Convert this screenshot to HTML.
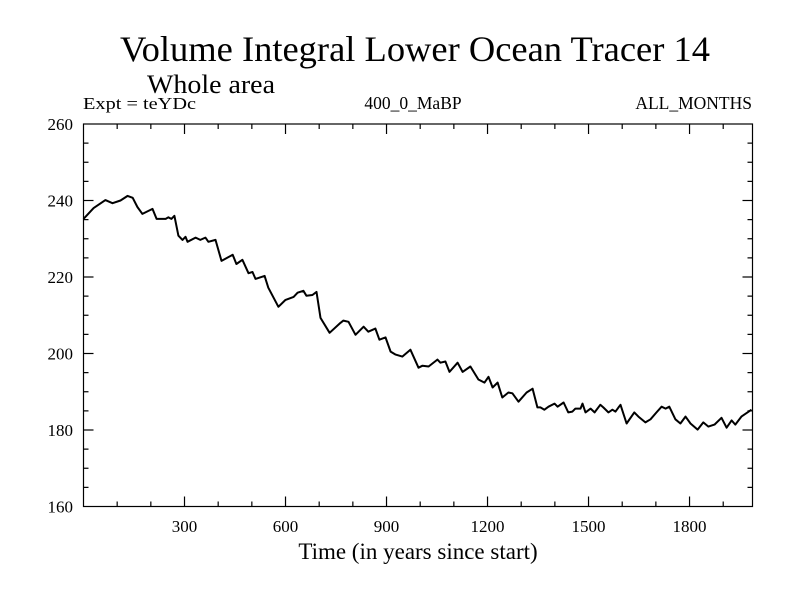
<!DOCTYPE html>
<html><head><meta charset="utf-8"><style>
body{margin:0;background:#fff;}
svg{display:block;font-family:"Liberation Serif",serif;}
</style></head><body>
<svg id="chart" width="800" height="600">
<text x="415" y="61" font-size="36" text-anchor="middle" textLength="590" lengthAdjust="spacingAndGlyphs">Volume Integral Lower Ocean Tracer 14</text>
<text x="147" y="93" font-size="26" textLength="128" lengthAdjust="spacingAndGlyphs">Whole area</text>
<text x="83" y="109" font-size="17" textLength="113" lengthAdjust="spacingAndGlyphs">Expt = teYDc</text>
<text x="413" y="109" font-size="17.5" text-anchor="middle">400_0_MaBP</text>
<text x="752" y="109" font-size="17.5" text-anchor="end">ALL_MONTHS</text>
<text x="418" y="559" font-size="23" text-anchor="middle">Time (in years since start)</text>
<g id="axes"></g>
<path id="series" fill="none" stroke="#000" stroke-width="2" stroke-linejoin="round"></path>
<rect x="83.5" y="124" width="669" height="382.5" fill="none" stroke="#000" stroke-width="1.2"></rect>
</svg>
<script>
const years=[0,30,65,86,110,131,146,160,175,205,217,244,252,261,270,282,294,303,309,333,347,362,371,392,410,443,454,472,490,502,511,538,549,579,600,624,636,653,662,680,692,704,731,763,772,787,808,832,846,867,879,897,912,927,947,971,995,1007,1025,1051,1060,1075,1087,1111,1126,1149,1173,1191,1203,1215,1230,1244,1262,1274,1292,1316,1334,1348,1357,1369,1381,1399,1408,1426,1440,1452,1461,1476,1482,1491,1506,1518,1535,1544,1559,1571,1580,1589,1595,1613,1636,1648,1669,1684,1702,1717,1729,1740,1758,1773,1788,1803,1824,1841,1856,1874,1895,1910,1925,1936,1954,1984];
const values=[235.2,238,240.1,239.3,240,241.2,240.7,238.3,236.5,237.8,235.2,235.2,235.6,235.2,236,230.8,229.7,230.5,229.2,230.3,229.7,230.3,229.2,229.7,224.2,225.8,223.4,224.5,221,221.3,219.5,220.3,217.2,212.2,214,214.8,215.9,216.4,215.1,215.3,216.1,209.3,205.4,208,208.6,208.3,204.9,207,205.7,206.5,203.6,204.2,200.5,199.7,199.2,201,196.3,196.8,196.6,198.4,197.6,197.9,195.2,197.6,195.2,196.6,193.2,192.4,193.9,191.1,192.4,188.5,189.8,189.6,187.4,189.8,190.8,185.9,185.9,185.3,186.1,186.9,186.1,187.2,184.6,184.8,185.6,185.6,186.9,184.6,185.6,184.6,186.6,185.9,184.6,185.3,184.8,185.9,186.6,181.7,184.6,183.5,182,182.8,184.6,186.1,185.6,186.1,182.8,181.7,183.5,181.7,180.1,182,180.9,181.4,183.2,180.6,182.5,181.4,183.5,185.3];
const xTicks=[300,600,900,1200,1500,1800];
const yTicks=[160,180,200,220,240,260];
const X0=83.5,X1=752.5,Y0=506.5,Y1=124,XMAX=1987,YMIN=160,YMAX=260;
const sx=v=>X0+v/XMAX*(X1-X0);
const sy=v=>Y0-(v-YMIN)/(YMAX-YMIN)*(Y0-Y1);
const NS='http://www.w3.org/2000/svg';
const ax=document.getElementById('axes');
function ln(x1,y1,x2,y2){const l=document.createElementNS(NS,'line');l.setAttribute('x1',x1);l.setAttribute('y1',y1);l.setAttribute('x2',x2);l.setAttribute('y2',y2);l.setAttribute('stroke','#000');l.setAttribute('stroke-width','1.2');


ax.appendChild(l);}
for(let v=100;v<XMAX;v+=100){const maj=v%300===0;const L=maj?10:5;const x=sx(v);ln(x,Y0,x,Y0-L);ln(x,Y1,x,Y1+L);}
for(let v=165;v<260;v+=5){const maj=v%20===0;const L=maj?10:5;const y=sy(v);ln(X0,y,X0+L,y);ln(X1,y,X1-L,y);}
xTicks.forEach(v=>{const t=document.createElementNS(NS,'text');t.setAttribute('x',sx(v));t.setAttribute('y',532);t.setAttribute('font-size','17');t.setAttribute('text-anchor','middle');t.textContent=v;


ax.appendChild(t);});
yTicks.forEach(v=>{const t=document.createElementNS(NS,'text');t.setAttribute('x',73);t.setAttribute('y',sy(v)+6);t.setAttribute('font-size','17');t.setAttribute('text-anchor','end');t.textContent=v;


ax.appendChild(t);});
document.getElementById('series').setAttribute('d',years.map((y,i)=>(i?'L':'M')+sx(y).toFixed(1)+' '+sy(values[i]).toFixed(1)).join(''));
</script>
</body></html>
